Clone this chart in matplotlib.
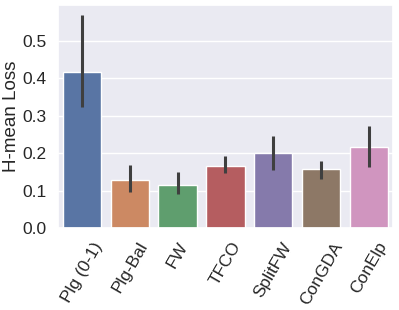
import matplotlib
matplotlib.use("Agg")
import matplotlib.pyplot as plt
import seaborn as sns
import numpy as np

methods = ["Plg (0-1)", "Plg-Bal", "FW", "TFCO", "SplitFW", "ConGDA", "ConElp"]
means = [0.416, 0.128, 0.117, 0.167, 0.202, 0.159, 0.218]
err_low = [0.323, 0.096, 0.091, 0.147, 0.156, 0.131, 0.165]
err_high = [0.568, 0.168, 0.150, 0.193, 0.247, 0.181, 0.272]

sns.set_theme(style="darkgrid")
plt.rcParams['font.family'] = ['Liberation Sans', 'DejaVu Sans']

fig = plt.figure(figsize=(3.99, 3.10), dpi=100)
ax = fig.add_axes([0.145, 0.263, 0.84, 0.721])

colors = sns.color_palette("deep", len(methods), desat=0.75)
x = np.arange(len(methods))
ax.bar(x, means, width=0.8, color=colors, edgecolor="white", linewidth=1)
means_a = np.array(means)
yerr = np.vstack([means_a - np.array(err_low), np.array(err_high) - means_a])
ax.errorbar(x, means, yerr=yerr, fmt="none", ecolor="#3f3f3f", elinewidth=2.2, capsize=0)

ax.set_xlim(-0.5, len(methods) - 0.5)
ax.set_ylim(0, 0.596)
ax.set_yticks([0.0, 0.1, 0.2, 0.3, 0.4, 0.5])
ax.set_yticklabels(["0.0", "0.1", "0.2", "0.3", "0.4", "0.5"], fontsize=12.5)
ax.set_xticks(x)
ax.set_xticklabels(methods, rotation=60, fontsize=12.5)
ax.set_ylabel("H-mean Loss", fontsize=13.5, labelpad=2)
ax.tick_params(axis='both', pad=2)
ax.xaxis.grid(False)

fig.savefig("out.png", dpi=100)
